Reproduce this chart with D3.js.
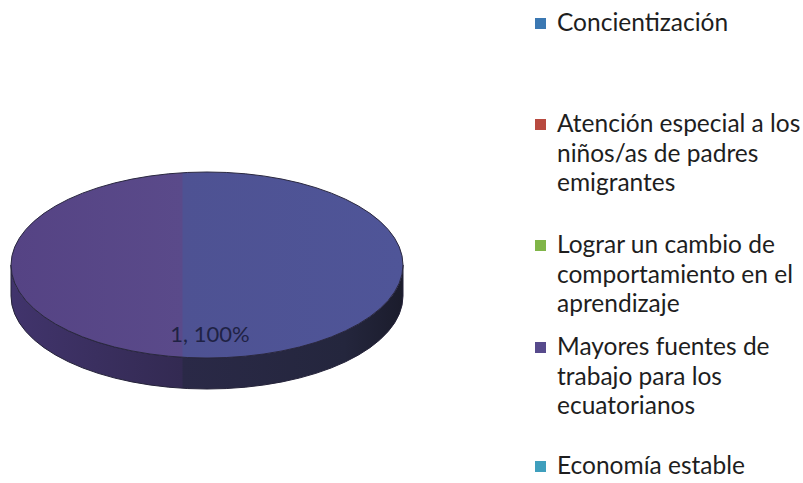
<!DOCTYPE html>
<html>
<head>
<meta charset="utf-8">
<script src="https://cdn.jsdelivr.net/npm/d3@7"></script>
<style>
  body { margin: 0; background: #fff; }
  svg { display: block; }
</style>
</head>
<body>
<svg width="803" height="483"></svg>
<script>
// Data
var categories = [
    ["Concientización"],
    ["Atención especial a los", "niños/as de padres", "emigrantes"],
    ["Lograr un cambio de", "comportamiento en el", "aprendizaje"],
    ["Mayores fuentes de", "trabajo para los", "ecuatorianos"],
    ["Economía estable"]
];
var values = [0, 0, 0, 1, 0];
var colors = ["#3b78b2", "#b84a40", "#80b548", "#574a8c", "#3f9fbd"];

var svg = d3.select("svg"),
    width = +svg.attr("width"),
    height = +svg.attr("height");

// Pie geometry (3D tilted look)
var cx = 207, cy = 265, rx = 196, ry = 93, depth = 31;
var k = ry / rx;

var defs = svg.append("defs");

// top face: purple on the left, bluer on the right (group coords, centred on 0)
var topGrad = defs.append("linearGradient")
    .attr("id", "topGrad")
    .attr("gradientUnits", "userSpaceOnUse")
    .attr("x1", -rx).attr("x2", rx).attr("y1", 0).attr("y2", 0);
topGrad.selectAll("stop")
    .data([[0, "#554384"], [0.435, "#5a4a8a"], [0.44, "#4e5293"], [1, "#4f5598"]])
    .enter().append("stop")
    .attr("offset", d => d[0]).attr("stop-color", d => d[1]);

var sideGrad = defs.append("linearGradient")
    .attr("id", "sideGrad")
    .attr("gradientUnits", "userSpaceOnUse")
    .attr("x1", -rx).attr("x2", rx).attr("y1", 0).attr("y2", 0);
sideGrad.selectAll("stop")
    .data([[0, "#41346c"], [0.435, "#332a52"], [0.44, "#2a2947"], [0.85, "#24263d"], [1, "#1b1c2c"]])
    .enter().append("stop")
    .attr("offset", d => d[0]).attr("stop-color", d => d[1]);

var pie = d3.pie().sort(null).value(d => d);
var arcs = pie(values);

var arc = d3.arc().innerRadius(0).outerRadius(rx);

var g = svg.append("g")
    .attr("transform", "translate(" + cx + "," + cy + ") scale(1," + k + ")");

// side wall of the slice along the front half
var D = depth / k;
arcs.filter(d => d.value > 0).forEach(function(d) {
    var p = d3.path();
    p.moveTo(rx, 0);
    p.arc(0, 0, rx, 0, Math.PI, false);
    p.lineTo(-rx, D);
    p.arc(0, D, rx, Math.PI, 0, true);
    p.closePath();
    g.append("path")
        .attr("d", p.toString())
        .attr("fill", "url(#sideGrad)")
        .attr("stroke", "#25233a")
        .attr("stroke-width", 1)
        .attr("vector-effect", "non-scaling-stroke");
});

// top faces
g.selectAll(".slice")
    .data(arcs.filter(d => d.value > 0))
    .enter().append("path")
    .attr("class", "slice")
    .attr("d", arc)
    .attr("fill", "url(#topGrad)")
    .attr("stroke", "#2a2840")
    .attr("stroke-width", 1)
    .attr("vector-effect", "non-scaling-stroke");

// data label
var total = d3.sum(values);
arcs.filter(d => d.value > 0).forEach(function(d) {
    svg.append("text")
        .attr("x", cx + 3)
        .attr("y", cy + 77)
        .attr("text-anchor", "middle")
        .style("font-family", "Lato, 'Open Sans', sans-serif")
        .style("font-size", "22px")
        .style("fill", "#1f2244")
        .text(d.value + ", " + d3.format(".0%")(d.value / total));
});

// Legend
var legendX = 535, textX = 557, lineH = 29.5;
var legendY = [31, 132, 253, 355, 474];

var legend = svg.append("g").attr("class", "legend");
categories.forEach(function(lines, i) {
    var item = legend.append("g");
    item.append("rect")
        .attr("x", legendX)
        .attr("y", legendY[i] - 13)
        .attr("width", 11)
        .attr("height", 11)
        .attr("fill", colors[i]);
    item.append("text")
        .attr("x", textX)
        .attr("y", legendY[i])
        .style("font-family", "Lato, 'Open Sans', sans-serif")
        .style("font-size", "24.5px")
        .style("fill", "#1e1e1e")
        .selectAll("tspan")
        .data(lines)
        .enter().append("tspan")
        .attr("x", textX)
        .attr("dy", (d, j) => j === 0 ? 0 : lineH)
        .text(d => d);
});
</script>
</body>
</html>
